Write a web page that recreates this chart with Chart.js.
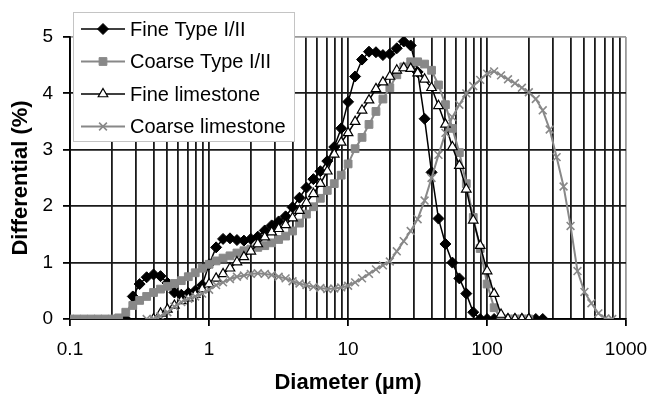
<!DOCTYPE html>
<html>
<head>
<meta charset="utf-8">
<script src="https://cdn.jsdelivr.net/npm/chart.js@4"></script>
<style>
  html, body { margin: 0; padding: 0; background: #fff; }
  #wrap { width: 650px; height: 398px; }
</style>
</head>
<body>
<div id="wrap"><canvas id="psdChart" width="650" height="398"></canvas></div>
<script>
// particle diameters (um), one row per half decade
const diameters = [
  0.100, 0.112, 0.126, 0.142, 0.159, 0.178, 0.200, 0.224, 0.252, 0.283,
  0.317, 0.356, 0.399, 0.448, 0.502, 0.564, 0.632, 0.710, 0.796, 0.893,
  1.002, 1.125, 1.262, 1.416, 1.589, 1.783, 2.000, 2.244, 2.518, 2.825,
  3.170, 3.557, 3.991, 4.477, 5.024, 5.637, 6.325, 7.096, 7.962, 8.934,
  10.02, 11.25, 12.62, 14.16, 15.89, 17.83, 20.00, 22.44, 25.18, 28.25,
  31.70, 35.57, 39.91, 44.77, 50.24, 56.37, 63.25, 70.96, 79.62, 89.34,
  100.2, 112.5, 126.2, 141.6, 158.9, 178.3, 200.0, 224.4, 251.8, 282.5,
  317.0, 355.7, 399.1, 447.7, 502.4, 563.7, 632.5, 709.6, 796.2
];

const fineType = [
  null, null, null, null, null, null, null, null, 0, 0.40,
  0.62, 0.74, 0.79, 0.76, 0.64, 0.47, 0.43, 0.46, 0.50, 0.60,
  0.97, 1.27, 1.42, 1.43, 1.40, 1.39, 1.42, 1.46, 1.57, 1.66,
  1.73, 1.82, 1.98, 2.15, 2.33, 2.48, 2.62, 2.80, 3.05, 3.38,
  3.85, 4.30, 4.60, 4.74, 4.73, 4.68, 4.70, 4.80, 4.92, 4.85,
  4.38, 3.55, 2.60, 1.78, 1.33, 1.00, 0.72, 0.45, 0.12, 0,
  0, 0, 0, 0, 0, 0, 0, 0, 0, null,
  null, null, null, null, null, null, null, null, null
];

const coarseType = [
  0, 0, 0, 0, 0, 0, 0, 0.02, 0.12, 0.24,
  0.33, 0.40, 0.47, 0.53, 0.58, 0.63, 0.68, 0.75, 0.82, 0.90,
  0.97, 1.03, 1.08, 1.12, 1.17, 1.21, 1.24, 1.27, 1.30, 1.35,
  1.41, 1.47, 1.56, 1.70, 1.86, 1.99, 2.14, 2.28, 2.40, 2.55,
  2.75, 3.02, 3.22, 3.45, 3.68, 3.90, 4.10, 4.33, 4.47, 4.56,
  4.56, 4.52, 4.41, 4.15, 3.80, 3.38, 2.95, 2.40, 1.80, 1.25,
  0.62, 0.20, 0, 0, 0, 0, 0, null, null, null,
  null, null, null, null, null, null, null, null, null
];

const fineLimestone = [
  null, null, null, null, null, null, null, null, null, null,
  null, null, 0, 0.10, 0.17, 0.24, 0.32, 0.37, 0.43, 0.53,
  0.62, 0.72, 0.80, 0.90, 1.01, 1.10, 1.20, 1.33, 1.45, 1.54,
  1.60, 1.67, 1.79, 1.92, 2.06, 2.22, 2.40, 2.62, 2.92, 3.13,
  3.30, 3.50, 3.70, 3.88, 4.08, 4.20, 4.30, 4.41, 4.45, 4.44,
  4.36, 4.25, 4.10, 3.78, 3.45, 3.05, 2.72, 2.30, 1.75, 1.30,
  0.85, 0.45, 0.08, 0, 0, 0, 0, null, null, null,
  null, null, null, null, null, null, null, null, null
];

const coarseLimestone = [
  null, null, null, null, null, null, null, null, null, null,
  null, 0, 0, 0.05, 0.12, 0.22, 0.30, 0.36, 0.40, 0.45,
  0.52, 0.60, 0.65, 0.71, 0.75, 0.77, 0.80, 0.81, 0.80, 0.78,
  0.75, 0.72, 0.67, 0.63, 0.60, 0.57, 0.55, 0.53, 0.54, 0.56,
  0.59, 0.65, 0.72, 0.80, 0.88, 0.95, 1.02, 1.20, 1.38, 1.56,
  1.77, 2.10, 2.50, 2.91, 3.30, 3.58, 3.80, 4.00, 4.13, 4.24,
  4.35, 4.39, 4.32, 4.25, 4.18, 4.10, 4.02, 3.90, 3.70, 3.36,
  2.87, 2.35, 1.65, 0.85, 0.48, 0.28, 0.10, 0.01, 0
];

const xLabels = [0.1, 1, 10, 100, 1000];
const yTicks = [0, 1, 2, 3, 4, 5];

const GRAY = '#888888';
const GRID = '#1a1a1a';
const FONT = "'Liberation Sans', Arial, sans-serif";

// gridline at every 1..9 step of each decade
const xGrid = [];
for (let d = 0; d < xLabels.length - 1; d++) {
  for (let m = 1; m < 10; m++) xGrid.push(+(xLabels[d] * m).toPrecision(3));
}
xGrid.push(xLabels[xLabels.length - 1]);

const isDecade = (v) => xLabels.some((l) => Math.abs(l - v) < 1e-9);

const legendBox = {
  id: 'legendBox',
  afterDraw(chart) {
    const ctx = chart.ctx;
    ctx.save();
    ctx.fillStyle = '#fff';
    ctx.fillRect(73, 12, 221, 129);
    ctx.strokeStyle = '#c4c4c4';
    ctx.lineWidth = 1;
    ctx.strokeRect(73.5, 12.5, 221, 129);
    chart.data.datasets.forEach((ds, i) => {
      const y = 29 + i * 32.5;
      ctx.strokeStyle = ds.borderColor;
      ctx.lineWidth = ds.borderWidth;
      ctx.beginPath();
      ctx.moveTo(81, y);
      ctx.lineTo(125, y);
      ctx.stroke();
      ctx.fillStyle = ds.pointBackgroundColor;
      ctx.strokeStyle = ds.pointBorderColor;
      ctx.lineWidth = ds.pointBorderWidth;
      Chart.helpers.drawPoint(ctx, {
        pointStyle: ds.pointStyle,
        radius: ds.pointRadius,
        borderWidth: ds.pointBorderWidth,
        rotation: 0
      }, 103, y);
      ctx.fillStyle = '#000';
      ctx.font = '20px ' + FONT;
      ctx.textAlign = 'left';
      ctx.textBaseline = 'middle';
      ctx.fillText(ds.label, 130, y + 1);
    });
    ctx.restore();
  }
};

new Chart(document.getElementById('psdChart'), {
  type: 'line',
  data: {
    labels: diameters,
    datasets: [
      {
        label: 'Fine Type I/II',
        data: fineType,
        borderColor: '#000',
        borderWidth: 1.5,
        pointStyle: 'rectRot',
        pointRadius: 5.5,
        pointBackgroundColor: '#000',
        pointBorderColor: '#000',
        pointBorderWidth: 1,
        order: 4
      },
      {
        label: 'Coarse Type I/II',
        data: coarseType,
        borderColor: GRAY,
        borderWidth: 2,
        pointStyle: 'rect',
        pointRadius: 5.5,
        pointBackgroundColor: GRAY,
        pointBorderColor: GRAY,
        pointBorderWidth: 1,
        order: 3
      },
      {
        label: 'Fine limestone',
        data: fineLimestone,
        borderColor: '#000',
        borderWidth: 1.5,
        pointStyle: 'triangle',
        pointRadius: 5.5,
        pointBackgroundColor: '#fff',
        pointBorderColor: '#000',
        pointBorderWidth: 1.2,
        order: 2
      },
      {
        label: 'Coarse limestone',
        data: coarseLimestone,
        borderColor: GRAY,
        borderWidth: 2,
        pointStyle: 'crossRot',
        pointRadius: 5.5,
        pointBackgroundColor: GRAY,
        pointBorderColor: GRAY,
        pointBorderWidth: 1.6,
        order: 1
      }
    ]
  },
  options: {
    responsive: false,
    animation: false,
    events: [],
    spanGaps: false,
    elements: { line: { tension: 0 } },
    layout: { padding: { top: 37, right: 24, left: 0, bottom: 0 } },
    plugins: {
      legend: { display: false },
      tooltip: { enabled: false }
    },
    scales: {
      x: {
        type: 'logarithmic',
        min: 0.1,
        max: 1000,
        afterBuildTicks: (scale) => {
          scale.ticks = xGrid.map((v) => ({ value: v, major: isDecade(v) }));
        },
        afterFit: (scale) => {
          scale.height = 79;
          scale.paddingLeft = 0;
          scale.paddingRight = 0;
        },
        ticks: {
          autoSkip: false,
          maxRotation: 0,
          padding: 12,
          color: '#000',
          font: { family: FONT, size: 19 },
          callback: (value) => (isDecade(value) ? String(value) : '')
        },
        grid: {
          color: (c) => (c.tick && c.tick.value === 1000 ? '#9a9a9a' : GRID),
          lineWidth: 1.8,
          tickLength: 7,
          tickColor: (c) => (c.tick && isDecade(c.tick.value) ? '#000' : 'rgba(0,0,0,0)')
        },
        border: { color: '#000', width: 1.8 },
        title: {
          display: true,
          text: 'Diameter (µm)',
          color: '#000',
          font: { family: FONT, size: 22, weight: 'bold' },
          padding: { top: 0, bottom: 2 }
        }
      },
      y: {
        min: 0,
        max: 5,
        afterBuildTicks: (scale) => {
          scale.ticks = yTicks.map((v) => ({ value: v }));
        },
        afterFit: (scale) => {
          scale.width = 70;
          scale.paddingTop = 0;
          scale.paddingBottom = 0;
        },
        ticks: {
          padding: 10,
          color: '#000',
          font: { family: FONT, size: 19 }
        },
        grid: {
          color: (c) => (c.tick && c.tick.value === 5 ? '#9a9a9a' : GRID),
          lineWidth: 1.8,
          tickLength: 7,
          tickColor: '#000'
        },
        border: { color: '#000', width: 1.8 },
        title: {
          display: true,
          text: 'Differential (%)',
          color: '#000',
          font: { family: FONT, size: 22, weight: 'bold' },
          padding: { top: 8, bottom: 0 }
        }
      }
    }
  },
  plugins: [legendBox]
});
</script>
</body>
</html>
